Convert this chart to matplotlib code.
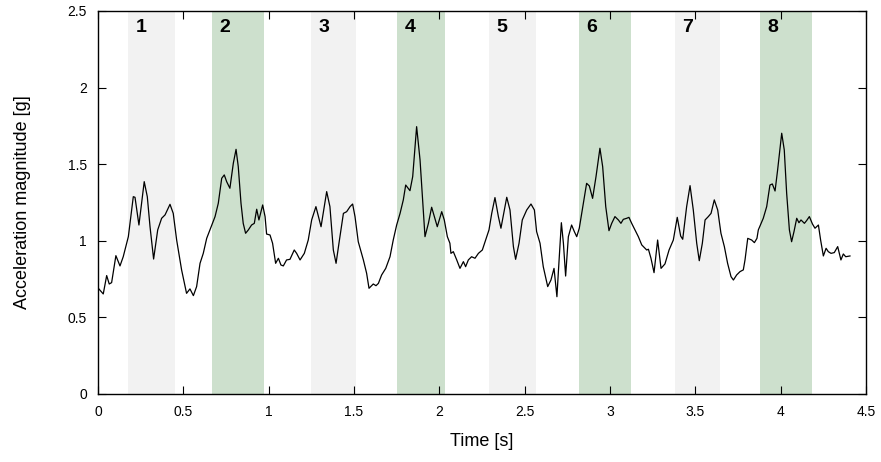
import numpy as np
import matplotlib.pyplot as plt

plt.rcParams['font.family'] = ['Liberation Sans', 'DejaVu Sans']

# shaded step windows [s]
band_start = [0.176, 0.668, 1.248, 1.752, 2.291, 2.818, 3.380, 3.878]
band_end = [0.451, 0.973, 1.510, 2.033, 2.566, 3.123, 3.645, 4.183]
band_labels = ['1', '2', '3', '4', '5', '6', '7', '8']
band_colors = ['#f2f2f2', '#cde0cd'] * 4

# acceleration trace
time_s = [
    0.002, 0.031, 0.051, 0.066, 0.080, 0.105, 0.129, 0.148, 0.178, 0.207,
    0.217, 0.240, 0.271, 0.289, 0.305, 0.326, 0.350, 0.373, 0.393, 0.422,
    0.441, 0.461, 0.490, 0.519, 0.539, 0.559, 0.578, 0.598, 0.617, 0.637,
    0.656, 0.686, 0.705, 0.725, 0.740, 0.754, 0.773, 0.793, 0.809, 0.822,
    0.838, 0.851, 0.865, 0.881, 0.900, 0.916, 0.930, 0.943, 0.965, 0.979,
    0.988, 1.008, 1.023, 1.041, 1.057, 1.072, 1.086, 1.105, 1.125, 1.150,
    1.164, 1.184, 1.209, 1.232, 1.252, 1.277, 1.307, 1.340, 1.359, 1.379,
    1.395, 1.412, 1.438, 1.457, 1.477, 1.492, 1.506, 1.525, 1.555, 1.574,
    1.588, 1.613, 1.629, 1.643, 1.662, 1.686, 1.711, 1.730, 1.750, 1.770,
    1.789, 1.803, 1.828, 1.844, 1.867, 1.887, 1.916, 1.936, 1.955, 1.971,
    1.988, 2.014, 2.029, 2.047, 2.062, 2.068, 2.082, 2.102, 2.121, 2.141,
    2.154, 2.170, 2.189, 2.209, 2.229, 2.252, 2.268, 2.291, 2.307, 2.326,
    2.346, 2.361, 2.395, 2.414, 2.434, 2.447, 2.467, 2.486, 2.512, 2.537,
    2.557, 2.570, 2.590, 2.609, 2.635, 2.654, 2.672, 2.689, 2.697, 2.715,
    2.727, 2.740, 2.756, 2.775, 2.791, 2.805, 2.820, 2.844, 2.863, 2.879,
    2.898, 2.918, 2.941, 2.957, 2.975, 2.994, 3.010, 3.029, 3.049, 3.064,
    3.078, 3.098, 3.111, 3.127, 3.146, 3.166, 3.186, 3.215, 3.225, 3.240,
    3.258, 3.279, 3.299, 3.322, 3.346, 3.371, 3.394, 3.414, 3.426, 3.449,
    3.469, 3.488, 3.508, 3.523, 3.541, 3.557, 3.576, 3.592, 3.611, 3.631,
    3.650, 3.670, 3.689, 3.709, 3.723, 3.742, 3.762, 3.781, 3.791, 3.807,
    3.830, 3.846, 3.861, 3.869, 3.898, 3.918, 3.937, 3.951, 3.967, 3.982,
    4.006, 4.021, 4.035, 4.051, 4.064, 4.078, 4.094, 4.107, 4.119, 4.139,
    4.152, 4.168, 4.186, 4.201, 4.221, 4.234, 4.250, 4.266, 4.279, 4.295,
    4.314, 4.334, 4.353, 4.367, 4.381, 4.406,
]
accel_g = [
    0.690, 0.653, 0.773, 0.718, 0.727, 0.903, 0.836, 0.896, 1.027, 1.288,
    1.284, 1.103, 1.386, 1.288, 1.092, 0.881, 1.071, 1.147, 1.169, 1.238,
    1.179, 1.005, 0.810, 0.657, 0.686, 0.642, 0.701, 0.853, 0.918, 1.016,
    1.071, 1.158, 1.245, 1.408, 1.430, 1.386, 1.343, 1.506, 1.597, 1.484,
    1.245, 1.114, 1.049, 1.071, 1.103, 1.114, 1.206, 1.136, 1.234, 1.158,
    1.044, 1.038, 0.984, 0.853, 0.886, 0.842, 0.836, 0.875, 0.879, 0.940,
    0.918, 0.875, 0.918, 1.005, 1.136, 1.223, 1.092, 1.321, 1.223, 0.940,
    0.853, 0.984, 1.179, 1.190, 1.223, 1.240, 1.158, 0.994, 0.875, 0.788,
    0.690, 0.718, 0.707, 0.722, 0.777, 0.820, 0.896, 1.005, 1.103, 1.179,
    1.267, 1.364, 1.327, 1.419, 1.745, 1.528, 1.027, 1.114, 1.219, 1.158,
    1.092, 1.190, 1.136, 1.027, 0.984, 0.918, 0.929, 0.875, 0.820, 0.864,
    0.831, 0.875, 0.896, 0.886, 0.918, 0.940, 0.994, 1.071, 1.179, 1.282,
    1.158, 1.082, 1.284, 1.201, 0.962, 0.879, 0.984, 1.136, 1.201, 1.240,
    1.201, 1.060, 0.984, 0.831, 0.701, 0.744, 0.820, 0.635, 0.788, 1.118,
    0.984, 0.770, 1.027, 1.103, 1.060, 1.027, 1.082, 1.245, 1.375, 1.358,
    1.277, 1.419, 1.604, 1.484, 1.223, 1.066, 1.114, 1.158, 1.136, 1.114,
    1.140, 1.147, 1.153, 1.114, 1.071, 1.027, 0.973, 0.940, 0.945, 0.886,
    0.792, 1.005, 0.820, 0.849, 0.940, 1.005, 1.153, 1.031, 1.010, 1.223,
    1.360, 1.201, 0.984, 0.870, 0.984, 1.136, 1.158, 1.179, 1.267, 1.201,
    1.049, 0.962, 0.853, 0.766, 0.744, 0.777, 0.799, 0.810, 0.875, 1.016,
    1.005, 0.988, 1.016, 1.071, 1.147, 1.223, 1.364, 1.371, 1.325, 1.462,
    1.702, 1.593, 1.310, 1.071, 0.994, 1.060, 1.147, 1.118, 1.136, 1.114,
    1.132, 1.158, 1.110, 1.082, 1.103, 1.005, 0.901, 0.951, 0.929, 0.918,
    0.923, 0.962, 0.875, 0.914, 0.896, 0.901,
]

x_ticks = [0, 0.5, 1, 1.5, 2, 2.5, 3, 3.5, 4, 4.5]
y_ticks = [0, 0.5, 1, 1.5, 2, 2.5]

fig = plt.figure(figsize=(8.81, 4.62), dpi=100)
ax = fig.add_axes([0.1112, 0.1472, 0.8718, 0.8290])

for x0, x1, lab, col in zip(band_start, band_end, band_labels, band_colors):
    ax.axvspan(x0, x1, color=col, lw=0, zorder=0)
    ax.text(x0 + 0.045, 2.39, lab, fontsize=14, fontweight='bold',
            ha='left', va='center')

ax.plot(time_s, accel_g, color='black', lw=0.9, zorder=2)

ax.set_xlim(0, 4.5)
ax.set_ylim(0, 2.5)
ax.set_xticks(x_ticks)
ax.set_xticklabels(['%g' % v for v in x_ticks])
ax.set_yticks(y_ticks)
ax.set_yticklabels(['%g' % v for v in y_ticks])
ax.tick_params(direction='in', length=6, width=0.8, top=True, right=True,
               labelsize=10, pad=8)
for s in ax.spines.values():
    s.set_linewidth(1.0)

ax.set_xlabel('Time [s]', fontsize=13, labelpad=10)
ax.set_ylabel('Acceleration magnitude [g]', fontsize=13, labelpad=26)

fig.savefig('out.png', dpi=100)
